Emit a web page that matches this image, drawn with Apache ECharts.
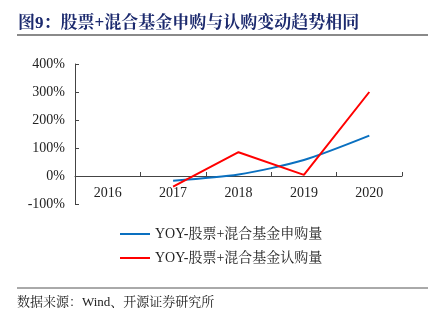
<!DOCTYPE html>
<html><head><meta charset="utf-8">
<script src="https://cdn.jsdelivr.net/npm/echarts@6/dist/echarts.min.js"></script>
<style>html,body{margin:0;padding:0;background:#fff;}#c{width:437px;height:323px;}</style>
</head><body><div id="c"></div>
<script>
const categories = ['2016','2017','2018','2019','2020'];
const subscriptionYoy = [null, -17, 5, 57, 144];
const ipoSubscriptionYoy = [null, -38, 85, 4, 300];
const seriesNames = ['YOY-股票+混合基金申购量','YOY-股票+混合基金认购量'];
const titleText = '图9：股票+混合基金申购与认购变动趋势相同';
const sourceText = '数据来源：Wind、开源证券研究所';

const serif = '"Liberation Serif","Noto Serif CJK SC","Noto Sans CJK SC",serif';
const chart = echarts.init(document.getElementById('c'));
chart.setOption({
  animation:false,
  textStyle:{fontFamily:serif},
  graphic:[
    {type:'text',left:18,top:15,style:{text:titleText,fill:'#1c2a6e',font:'bold 17px '+serif}},
    {type:'line',shape:{x1:17,y1:35,x2:428,y2:35},style:{stroke:'#8a8a8a',lineWidth:2}},
    {type:'line',shape:{x1:17,y1:288,x2:428,y2:288},style:{stroke:'#555',lineWidth:1}},
    {type:'text',left:17,top:296,style:{text:sourceText,fill:'#222',font:'13px '+serif}}
  ],
  legend:{
    orient:'vertical',left:115,top:222,itemWidth:30,itemHeight:2,itemGap:10,
    icon:'rect',
    textStyle:{fontFamily:serif,fontSize:14,color:'#222'},
    data:seriesNames
  },
  grid:{left:75,right:35,top:64,bottom:119},
  xAxis:{
    type:'category',data:categories,boundaryGap:true,
    axisLine:{onZero:true,lineStyle:{color:'#444',width:1}},
    axisTick:{show:true,inside:true,length:4,lineStyle:{color:'#444'}},
    axisLabel:{color:'#222',fontSize:14,margin:-18,fontFamily:serif}
  },
  yAxis:{
    type:'value',min:-100,max:400,interval:100,
    axisLine:{show:true,lineStyle:{color:'#444'}},
    axisTick:{show:true,inside:true,length:4,lineStyle:{color:'#444'}},
    splitLine:{show:false},
    axisLabel:{color:'#222',fontSize:14,margin:10,formatter:'{value}%',fontFamily:serif}
  },
  series:[
    {name:seriesNames[0],type:'line',data:subscriptionYoy,smooth:0.25,symbol:'none',
     lineStyle:{color:'#0a70c0',width:2},itemStyle:{color:'#0a70c0'}},
    {name:seriesNames[1],type:'line',data:ipoSubscriptionYoy,symbol:'none',
     lineStyle:{color:'#ff0000',width:2},itemStyle:{color:'#ff0000'}}
  ]
});
</script></body></html>
